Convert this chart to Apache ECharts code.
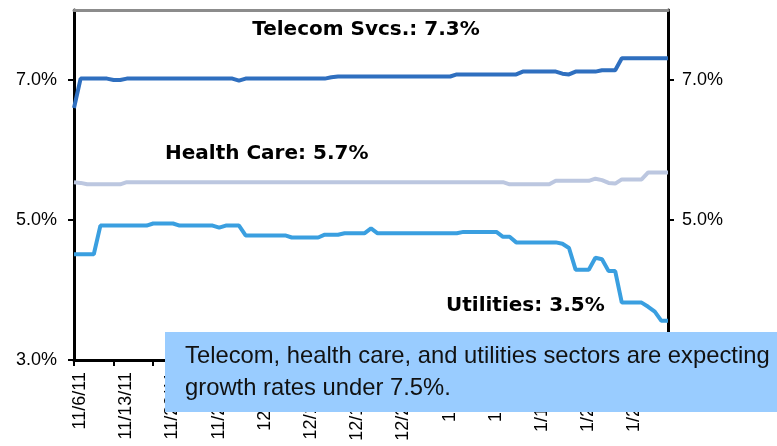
<!DOCTYPE html>
<html>
<head>
<meta charset="utf-8">
<script src="https://cdn.jsdelivr.net/npm/echarts@6/dist/echarts.min.js"></script>
<style>
html,body{margin:0;padding:0;background:#fff;}
#chart{width:777px;height:446px;}
</style>
</head>
<body>
<div id="chart"></div>
<script>
// daily dates, 11/6/11 .. 2/4/12
var startDate = [2011, 10, 6];
var dayCount = 91;
var yTicks = [3, 5, 7];

var telecom = [6.60,7.02,7.02,7.02,7.02,7.02,7.00,7.00,
    7.02,7.02,7.02,7.02,7.02,7.02,7.02,7.02,7.02,7.02,7.02,7.02,7.02,7.02,7.02,7.02,7.02,
    6.99,
    7.02,7.02,7.02,7.02,7.02,7.02,7.02,7.02,7.02,7.02,7.02,7.02,7.02,
    7.04,
    7.05,7.05,7.05,7.05,7.05,7.05,7.05,7.05,7.05,7.05,7.05,7.05,7.05,7.05,7.05,7.05,7.05,7.05,
    7.08,7.08,7.08,7.08,7.08,7.08,7.08,7.08,7.08,7.08,
    7.12,7.12,7.12,7.12,7.12,7.12,
    7.09,7.08,
    7.12,7.12,7.12,7.12,
    7.14,7.14,7.14,
    7.31,7.31,7.31,7.31,7.31,7.31,7.31,7.31];

var healthCare = [5.54,5.53,5.51,5.51,5.51,5.51,5.51,5.51,
    5.54,5.54,5.54,5.54,5.54,5.54,5.54,5.54,5.54,5.54,5.54,5.54,5.54,5.54,5.54,5.54,5.54,5.54,5.54,5.54,
    5.54,5.54,5.54,5.54,5.54,5.54,5.54,5.54,5.54,5.54,5.54,5.54,5.54,5.54,5.54,5.54,5.54,5.54,5.54,5.54,
    5.54,5.54,5.54,5.54,5.54,5.54,5.54,5.54,5.54,5.54,5.54,5.54,5.54,5.54,5.54,5.54,5.54,5.54,
    5.51,5.51,5.51,5.51,5.51,5.51,5.51,
    5.56,5.56,5.56,5.56,5.56,5.56,
    5.59,5.57,5.53,5.52,
    5.58,5.58,5.58,5.58,
    5.68,5.68,5.68,5.68];

var utilities = [4.51,4.51,4.51,4.51,
    4.92,4.92,4.92,4.92,4.92,4.92,4.92,4.92,
    4.95,4.95,4.95,4.95,
    4.92,4.92,4.92,4.92,4.92,4.92,
    4.89,
    4.92,4.92,4.92,
    4.78,4.78,4.78,4.78,4.78,4.78,4.78,
    4.75,4.75,4.75,4.75,4.75,
    4.79,4.79,4.79,
    4.81,4.81,4.81,4.81,
    4.88,
    4.81,4.81,4.81,4.81,4.81,4.81,4.81,4.81,4.81,4.81,4.81,4.81,4.81,
    4.83,4.83,4.83,4.83,4.83,4.83,
    4.76,4.76,
    4.68,4.68,4.68,4.68,4.68,4.68,4.68,
    4.66,4.60,
    4.29,4.29,4.29,
    4.46,4.44,
    4.27,4.27,
    3.82,3.82,3.82,3.82,
    3.76,3.69,3.56,3.56];

var dates = [];
var d = new Date(startDate[0], startDate[1], startDate[2]);
for (var i = 0; i < dayCount; i++) {
    dates.push((d.getMonth() + 1) + '/' + d.getDate() + '/' + String(d.getFullYear()).slice(2));
    d.setDate(d.getDate() + 1);
}

var labelFont = 'Liberation Sans, Arial, sans-serif';
var noteFont = 'DejaVu Sans, sans-serif';

function yAxisCfg(pos){
    return {
        type : 'value',
        position : pos,
        min : 3,
        max : 8,
        axisLine : {show: true, lineStyle: {color: '#000', width: 3}},
        axisTick : {show: true, length: 6, customValues: yTicks, lineStyle: {color: '#000', width: 2}},
        axisLabel : {
            customValues: yTicks,
            margin : pos == 'left' ? 17 : 14,
            fontSize : 18,
            fontFamily : labelFont,
            color : '#000',
            formatter : function(v){ return v.toFixed(1) + '%'; }
        },
        splitLine : {show: false}
    };
}

var myChart = echarts.init(document.getElementById('chart'), null, {renderer: 'canvas'});
var option = {
    animation : false,
    grid : {left: 74, right: 109, top: 10, bottom: 86, containLabel: false},
    xAxis : [
        {
            type : 'category',
            data : dates,
            boundaryGap : false,
            axisLine : {lineStyle: {color: '#000', width: 3}},
            axisTick : {show: true, interval: 5, length: 6, lineStyle: {color: '#000', width: 2}},
            axisLabel : {
                interval : 6,
                rotate : 90,
                margin : 12,
                verticalAlign : 'top',   // rotated text sits a little right of the tick
                lineHeight : 12,
                fontSize : 18,
                fontFamily : labelFont,
                color : '#000'
            },
            splitLine : {show: false}
        },
        {
            type : 'category',
            data : dates,
            position : 'top',
            boundaryGap : false,
            axisLine : {lineStyle: {color: '#8c8c8c', width: 3}},
            axisTick : {show: false},
            axisLabel : {show: false}
        }
    ],
    yAxis : [yAxisCfg('left'), yAxisCfg('right')],
    series : [
        {name: 'Telecom Svcs.', type: 'line', data: telecom, showSymbol: false,
         lineStyle: {color: '#2f6fbf', width: 4}, itemStyle: {color: '#2f6fbf'}},
        {name: 'Health Care', type: 'line', data: healthCare, showSymbol: false,
         lineStyle: {color: '#bcc7e0', width: 4}, itemStyle: {color: '#bcc7e0'}},
        {name: 'Utilities', type: 'line', data: utilities, showSymbol: false,
         lineStyle: {color: '#3a9fe0', width: 4}, itemStyle: {color: '#3a9fe0'}}
    ],
    graphic : [
        {type: 'text', x: 366, y: 30, z: 50,
         style: {text: 'Telecom Svcs.: 7.3%', font: 'bold 20px ' + noteFont, fill: '#000', align: 'center', verticalAlign: 'middle'}},
        {type: 'text', x: 165, y: 154, z: 50,
         style: {text: 'Health Care: 5.7%', font: 'bold 20px ' + noteFont, fill: '#000', align: 'left', verticalAlign: 'middle'}},
        {type: 'text', x: 446, y: 306, z: 50,
         style: {text: 'Utilities: 3.5%', font: 'bold 20px ' + noteFont, fill: '#000', align: 'left', verticalAlign: 'middle'}},
        {type: 'rect', z: 100, shape: {x: 165, y: 332, width: 620, height: 80},
         style: {fill: '#99ccff'}},
        {type: 'text', x: 185, y: 356, z: 101,
         style: {text: 'Telecom, health care, and utilities sectors are expecting', font: '23.8px ' + labelFont, fill: '#111', align: 'left', verticalAlign: 'middle'}},
        {type: 'text', x: 185, y: 388, z: 101,
         style: {text: 'growth rates under 7.5%.', font: '23.8px ' + labelFont, fill: '#111', align: 'left', verticalAlign: 'middle'}}
    ]
};

if (option && typeof option === "object") {
    myChart.setOption(option, true);
}
</script>
</body>
</html>
